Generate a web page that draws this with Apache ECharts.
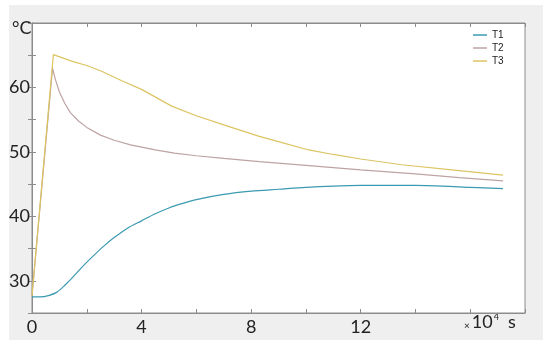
<!DOCTYPE html>
<html>
<head>
<meta charset="utf-8">
<script src="https://cdn.jsdelivr.net/npm/echarts@6/dist/echarts.min.js"></script>
<style>
  html, body { margin: 0; padding: 0; background: #fff; }
  #chart { width: 550px; height: 349px; }
</style>
</head>
<body>
<div id="chart"></div>
<script>
  // time in units of 10^4 s, temperature in °C
  var seriesNames = ['T1', 'T2', 'T3'];
  var t1Time = [0, 0.3, 0.6, 0.9, 1.2, 1.5, 1.8, 2.2, 2.6, 3.0, 3.5, 4.0, 4.5, 5.0, 5.5, 6.0, 7.0, 8.0, 9.0, 10.0, 11.0, 12.0, 13.0, 14.0, 15.0, 16.0, 17.2];
  var t1Temp = [27.5, 27.5, 27.7, 28.2, 29.3, 30.6, 32.0, 33.7, 35.3, 36.7, 38.2, 39.3, 40.4, 41.3, 42.0, 42.6, 43.4, 43.9, 44.2, 44.5, 44.7, 44.8, 44.8, 44.8, 44.7, 44.5, 44.3];
  var t2Time = [0, 0.75, 0.85, 1.0, 1.2, 1.4, 1.7, 2.0, 2.5, 3.0, 3.6, 4.5, 5.2, 6.0, 7.0, 8.3, 10.0, 12.0, 14.0, 15.6, 17.2];
  var t2Temp = [27.7, 63.0, 61.3, 59.3, 57.5, 56.1, 54.8, 53.8, 52.6, 51.8, 51.1, 50.3, 49.8, 49.4, 49.0, 48.5, 47.9, 47.2, 46.6, 46.0, 45.5];
  var t3Time = [0, 0.78, 1.5, 2.0, 2.5, 3.3, 4.0, 5.1, 6.0, 7.0, 8.3, 9.0, 10.1, 11.0, 12.0, 13.5, 15.6, 17.2];
  var t3Temp = [27.7, 65.1, 64.0, 63.4, 62.6, 61.0, 59.7, 57.1, 55.6, 54.2, 52.4, 51.6, 50.3, 49.6, 48.9, 48.0, 47.1, 46.4];
  var xTickLabels = [0, 4, 8, 12];
  var yTickLabels = [30, 40, 50, 60];

  function pairs(xs, ys){
    var out = [];
    for(var i=0;i<xs.length;i++){
      out.push([xs[i], ys[i]]);
    }
    return out;
  }

  var chart = echarts.init(document.getElementById('chart'));
  var font = 'Lato';
  var axisColor = '#8c8c8c';

  var option = {
    backgroundColor: '#ffffff',
    animation: false,
    color: ['#3b9ab0', '#bda3a3', '#dcc462'],
    graphic: [
      {
        type: 'rect', z: -10,
        shape: { x: 9, y: 5, width: 534, height: 335 },
        style: { fill: '#efefef' }
      },
      {
        type: 'text', left: 12, top: 19,
        style: { text: '°C', font: '18px ' + font, fill: '#222' }
      },
      {
        type: 'text', left: 464, top: 313,
        style: {
          text: '{a|×}{b|10}{c|4}{d|  s}',
          rich: {
            a: { fontSize: 10, fontFamily: font, fill: '#222', verticalAlign: 'bottom', padding: [0, 2, 0, 0] },
            b: { fontSize: 18, fontFamily: font, fill: '#222' },
            c: { fontSize: 9, fontFamily: font, fill: '#222', verticalAlign: 'top', padding: [0, 0, 8, 1] },
            d: { fontSize: 18, fontFamily: font, fill: '#222' }
          }
        }
      }
    ],
    grid: {
      left: 32, right: 25, top: 23, bottom: 36,
      show: true, backgroundColor: '#ffffff', borderColor: axisColor, borderWidth: 1
    },
    legend: {
      data: seriesNames,
      orient: 'vertical',
      left: 468, top: 25,
      icon: 'rect',
      itemWidth: 14, itemHeight: 1.5, itemGap: 3,
      textStyle: { fontFamily: 'Liberation Sans', fontSize: 10, color: '#222', lineHeight: 10 }
    },
    xAxis: [
      {
        type: 'value', min: 0, max: 18, interval: 2,
        axisLine: { show: true, lineStyle: { color: axisColor } },
        axisTick: { show: true, inside: true, length: 4, lineStyle: { color: axisColor } },
        splitLine: { show: false },
        axisLabel: {
          margin: 5, fontFamily: font, fontSize: 18, color: '#222',
          formatter: function(v){ return xTickLabels.indexOf(v) >= 0 ? String(v) : ''; }
        }
      },
      {
        type: 'value', position: 'top', min: 0, max: 18, interval: 2,
        axisLine: { show: true, lineStyle: { color: axisColor } },
        axisTick: { show: true, inside: true, length: 4, lineStyle: { color: axisColor } },
        splitLine: { show: false },
        axisLabel: { show: false }
      }
    ],
    yAxis: [
      {
        type: 'value', min: 25, max: 70, interval: 5,
        axisLine: { show: true, lineStyle: { color: axisColor } },
        axisTick: { show: true, inside: true, length: 4, lineStyle: { color: axisColor } },
        splitLine: { show: false },
        axisLabel: {
          margin: 2, fontFamily: font, fontSize: 18, color: '#222',
          formatter: function(v){ return yTickLabels.indexOf(v) >= 0 ? String(v) : ''; }
        }
      },
      {
        type: 'value', position: 'right', min: 25, max: 70, interval: 5,
        axisLine: { show: true, lineStyle: { color: axisColor } },
        axisTick: { show: true, inside: true, length: 4, lineStyle: { color: axisColor } },
        splitLine: { show: false },
        axisLabel: { show: false }
      }
    ],
    series: [
      { name: 'T1', type: 'line', symbol: 'none', smooth: 0.3, lineStyle: { width: 1.2 }, data: pairs(t1Time, t1Temp) },
      { name: 'T2', type: 'line', symbol: 'none', smooth: false, lineStyle: { width: 1.2 }, data: pairs(t2Time, t2Temp) },
      { name: 'T3', type: 'line', symbol: 'none', smooth: false, lineStyle: { width: 1.2 }, data: pairs(t3Time, t3Temp) }
    ]
  };
  option && chart.setOption(option);
</script>
</body>
</html>
